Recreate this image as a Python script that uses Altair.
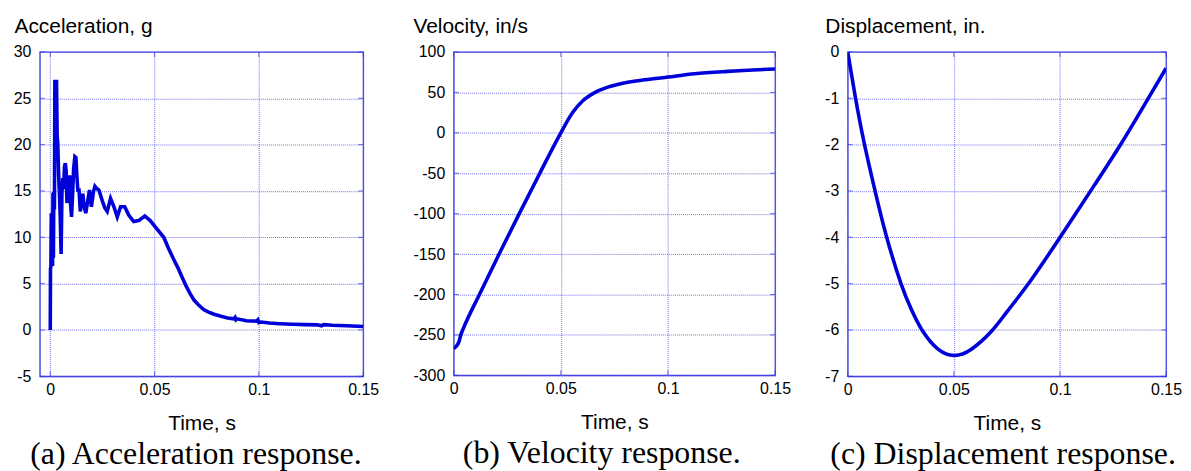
import altair as alt
import pandas as pd

# ---------------- data ----------------
acc_t = [0.0, 0.0001, 0.0003, 0.0005, 0.0007, 0.0009, 0.0011, 0.0013, 0.0015, 0.0017,
         0.0020, 0.0022, 0.0024, 0.0030, 0.0033, 0.0036, 0.0040, 0.0044, 0.0048, 0.0052,
         0.0056, 0.0060, 0.0064, 0.0068, 0.0072, 0.0076, 0.0080, 0.0084, 0.0088, 0.0093,
         0.0098, 0.0102, 0.0107, 0.0112, 0.0118, 0.0123, 0.0127, 0.0132, 0.0138, 0.0144,
         0.0150, 0.0156, 0.0162, 0.0170, 0.0178, 0.0188, 0.0197, 0.0207, 0.0214, 0.0221,
         0.0233, 0.0250, 0.0261, 0.0273, 0.0289, 0.0305, 0.0321, 0.0337, 0.0357, 0.0376,
         0.0400, 0.0424, 0.0453, 0.0479, 0.0511, 0.0544, 0.0567, 0.0592, 0.0612, 0.0632,
         0.0652, 0.0671, 0.0690, 0.0711, 0.0735, 0.0759, 0.0785, 0.0814, 0.0850, 0.0880,
         0.0886, 0.0890, 0.0895, 0.0940, 0.0989, 0.0995, 0.1000, 0.1010, 0.1050, 0.1100,
         0.1160, 0.1224, 0.1280, 0.1300, 0.1310, 0.1352, 0.1420, 0.1500]
acc_g = [0.0, 6.6, 6.8, 12.6, 7.0, 12.5, 6.9, 14.8, 7.8, 14.9,
         13.0, 26.8, 26.8, 26.8, 21.0, 20.1, 16.8, 14.6, 12.0, 8.2,
         14.8, 16.4, 15.2, 17.6, 18.0, 17.2, 13.7, 14.9, 15.6, 16.7,
         13.4, 12.2, 14.6, 17.4, 18.7, 18.6, 16.8, 15.1, 15.1, 12.8,
         13.6, 14.7, 13.4, 12.6, 13.7, 15.1, 13.3, 14.9, 15.5, 15.3,
         15.1, 13.9, 13.2, 12.8, 14.2, 13.3, 12.2, 13.3, 13.3, 12.4,
         11.7, 11.8, 12.3, 11.8, 10.9, 10.0, 8.8, 7.6, 6.7, 5.7,
         4.7, 3.9, 3.2, 2.7, 2.2, 1.93, 1.7, 1.5, 1.3, 1.2,
         1.35, 1.1, 1.2, 1.0, 0.95, 1.1, 0.8, 0.85, 0.75, 0.68,
         0.62, 0.58, 0.55, 0.45, 0.58, 0.5, 0.45, 0.38]

vel_t = [0.0, 0.0012, 0.0025, 0.0033, 0.0045, 0.0120, 0.0212, 0.0306, 0.0402, 0.0500,
         0.0555, 0.0600, 0.0660, 0.0720, 0.0784, 0.0892, 0.1000, 0.1124, 0.1278, 0.1500]
vel_v = [-267, -264, -258, -250, -242, -200, -150, -100, -50, 0,
         25, 39, 50, 56.5, 61, 65.5, 69, 73, 76, 79]

dis_t = [0.0, 0.0035, 0.0077, 0.0128, 0.0182, 0.0251, 0.0300, 0.0350, 0.0427, 0.0504,
         0.0581, 0.0673, 0.0750, 0.0858, 0.0996, 0.1150, 0.1288, 0.1411, 0.1500]
dis_d = [0.0, -0.95, -1.95, -2.98, -3.97, -5.0, -5.56, -6.0, -6.42, -6.55,
         -6.42, -6.05, -5.61, -4.96, -4.03, -2.96, -1.98, -1.04, -0.35]

time_ticks = [0, 0.05, 0.1, 0.15]
acc_ticks = [-5, 0, 5, 10, 15, 20, 25, 30]
vel_ticks = [-300, -250, -200, -150, -100, -50, 0, 50, 100]
dis_ticks = [-7, -6, -5, -4, -3, -2, -1, 0]

LINE = '#0000d8'
FRAME = '#3030dc'
GRID = '#7070ec'
TICK_LEN = 5


def panel(t, y, xdom, ydom, yticks, ytitle, caption, w, h, extent, interp):
    df = pd.DataFrame({'t': t, 'y': y})
    xs = alt.Scale(domain=xdom, nice=False, zero=False)
    ys = alt.Scale(domain=ydom, nice=False, zero=False)
    line = alt.Chart(df).mark_line(
        color=LINE, strokeWidth=3.6, clip=True, interpolate=interp
    ).encode(
        x=alt.X('t:Q', scale=xs,
                axis=alt.Axis(values=time_ticks, title='Time, s',
                              labelExpr='toString(datum.value)',
                              labelFlush=False, labelPadding=5, titlePadding=15)),
        y=alt.Y('y:Q', scale=ys,
                axis=alt.Axis(values=yticks, title=ytitle,
                              labelExpr='toString(datum.value)',
                              titleAngle=0, titleAlign='left',
                              titleBaseline='alphabetic',
                              titleX=-extent, titleY=-20, labelPadding=9)),
    )
    ydf = pd.DataFrame({'y': yticks})
    xdf = pd.DataFrame({'t': time_ticks})
    half = TICK_LEN / 2
    yl = alt.Chart(ydf).mark_tick(color=FRAME, thickness=1, size=TICK_LEN).encode(
        y=alt.Y('y:Q', scale=ys), x=alt.value(half))
    yr = alt.Chart(ydf).mark_tick(color=FRAME, thickness=1, size=TICK_LEN).encode(
        y=alt.Y('y:Q', scale=ys), x=alt.value(w - half))
    xb = alt.Chart(xdf).mark_tick(color=FRAME, thickness=1, size=TICK_LEN).encode(
        x=alt.X('t:Q', scale=xs), y=alt.value(h - half))
    xt = alt.Chart(xdf).mark_tick(color=FRAME, thickness=1, size=TICK_LEN).encode(
        x=alt.X('t:Q', scale=xs), y=alt.value(half))
    return alt.layer(line, yl, yr, xb, xt).properties(
        width=w, height=h,
        title=alt.TitleParams(caption, orient='bottom', anchor='middle',
                              frame='bounds', font='Liberation Serif',
                              fontSize=32, fontWeight='normal', offset=6,
                              color='black')
    )


a = panel(acc_t, acc_g, [-0.005, 0.15], [-5, 30], acc_ticks, 'Acceleration, g',
          '(a) Acceleration response.', 325, 326, 26, 'linear')
b = panel(vel_t, vel_v, [0, 0.15], [-300, 100], vel_ticks, 'Velocity, in/s',
          '(b) Velocity response.', 323, 325, 41, 'monotone')
c = panel(dis_t, dis_d, [0, 0.15], [-7, 0], dis_ticks, 'Displacement, in.',
          '(c) Displacement response.', 320, 326, 23, 'natural')

chart = alt.hconcat(a, b, c, spacing=32).properties(
    padding={'left': 4, 'top': 5, 'right': 0, 'bottom': 0}
).configure(
    background='white'
).configure_axis(
    grid=True, gridColor=GRID, gridDash=[1, 1], gridWidth=1,
    domain=False, ticks=False,
    labelFont='Liberation Sans', labelFontSize=16, labelColor='black',
    titleFont='Liberation Sans', titleFontSize=21, titleFontWeight='normal',
    titleColor='black'
).configure_view(
    stroke=FRAME, strokeWidth=1.3
)

chart.save('out.html', embed_options={'renderer': 'svg', 'actions': False})
